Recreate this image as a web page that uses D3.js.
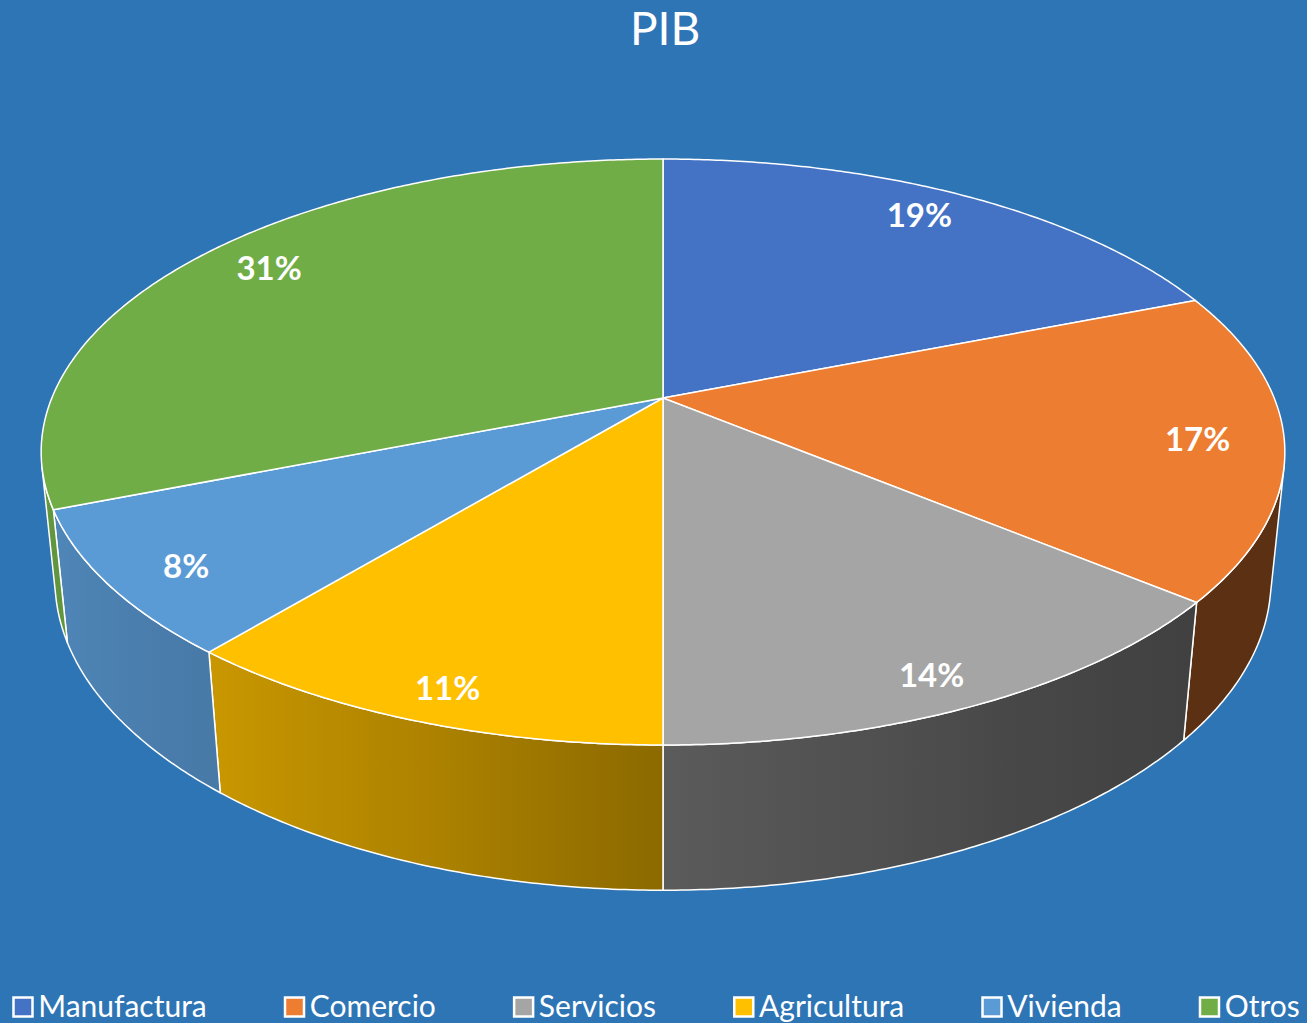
<!DOCTYPE html>
<html>
<head>
<meta charset="utf-8">
<script src="https://cdn.jsdelivr.net/npm/d3@7"></script>
<style>
  body { margin: 0; background: #2E75B6; }
  svg { display: block; }
</style>
</head>
<body>
<div id="chart"></div>
<script>
// data
const categories = ["Manufactura", "Comercio", "Servicios", "Agricultura", "Vivienda", "Otros"];
const values = [19, 17, 14, 11, 8, 31];

const width = 1307;
const height = 1023;

const color = d3.scaleOrdinal()
  .domain(categories)
  .range(["#4472C4", "#ED7D31", "#A5A5A5", "#FFC000", "#5B9BD5", "#70AD47"]);

// perspective camera looking down on a unit disk
const cam = {cx: 663, cy: 398, fx: 2952, fy: 3004, dist: 4.83, tilt: 27.07 * Math.PI / 180};
const thick = 0.2334;

function project(theta, r, y) {
  const X = r * Math.sin(theta), Z = r * Math.cos(theta);
  const c = Math.cos(cam.tilt), s = Math.sin(cam.tilt);
  const yc = y * c + Z * s;
  const d = cam.dist + Z * c - y * s;
  return [cam.cx + cam.fx * X / d, cam.cy - cam.fy * yc / d];
}

function arcPoints(a, b, r, y) {
  const n = Math.max(2, Math.ceil(Math.abs(b - a) / (Math.PI / 360)));
  return d3.range(n + 1).map(i => project(a + (b - a) * i / n, r, y));
}

// wall shading by angle (degrees)
const shade = d3.scaleLinear()
  .domain([100, 130, 150, 180, 200, 220, 245, 260])
  .range([0.39, 0.39, 0.43, 0.55, 0.69, 0.79, 0.86, 0.9])
  .clamp(true);

const svg = d3.select("#chart")
  .append("svg")
  .attr("width", width)
  .attr("height", height);

svg.append("rect")
  .attr("width", width)
  .attr("height", height)
  .attr("fill", "#2E75B6");

const defs = svg.append("defs");
const line = d3.line();

const pie = d3.pie().sort(null).value(d => d);
const arcs = pie(values);
const total = d3.sum(values);

// visible part of the outer wall
const thetaVis = Math.acos(-1 / (cam.dist * Math.cos(cam.tilt)));
const visLo = thetaVis, visHi = 2 * Math.PI - thetaVis;

const walls = svg.append("g");
arcs.forEach((d, i) => {
  const a = Math.max(d.startAngle, visLo);
  const b = Math.min(d.endAngle, visHi);
  if (b <= a) return;
  const base = d3.rgb(color(categories[i]));
  const x1 = project(a, 1, 0)[0], x2 = project(b, 1, 0)[0];
  const grad = defs.append("linearGradient")
    .attr("id", "wall" + i)
    .attr("gradientUnits", "userSpaceOnUse")
    .attr("x1", x1).attr("x2", x2).attr("y1", 0).attr("y2", 0);
  d3.range(13).forEach(k => {
    const t = a + (b - a) * k / 12;
    const f = shade(t * 180 / Math.PI);
    const px = project(t, 1, 0)[0];
    grad.append("stop")
      .attr("offset", Math.abs(x2 - x1) < 1e-6 ? 0 : (px - x1) / (x2 - x1))
      .attr("stop-color", d3.rgb(base.r * f, base.g * f, base.b * f).formatHex());
  });
  const pts = arcPoints(a, b, 1, 0).concat(arcPoints(b, a, 1, -thick));
  walls.append("path")
    .attr("d", line(pts) + "Z")
    .attr("fill", "url(#wall" + i + ")")
    .attr("stroke", "#ffffff")
    .attr("stroke-width", 1.5)
    .attr("stroke-linejoin", "round");
});

// top face
svg.append("g")
  .selectAll("path")
  .data(arcs)
  .enter()
  .append("path")
  .attr("d", d => line([project(0, 0, 0)].concat(arcPoints(d.startAngle, d.endAngle, 1, 0))) + "Z")
  .attr("fill", (d, i) => color(categories[i]))
  .attr("stroke", "#ffffff")
  .attr("stroke-width", 1.5)
  .attr("stroke-linejoin", "round");

// data labels, pulled in from the projected rim midpoint
const pct = d3.format(".0%");
const labelKx = 0.86, labelKy = 0.9;
svg.append("g")
  .selectAll("text")
  .data(arcs)
  .enter()
  .append("text")
  .attr("transform", d => {
    const c = project(0, 0, 0);
    const p = project((d.startAngle + d.endAngle) / 2, 1, 0);
    const x = c[0] + labelKx * (p[0] - c[0]);
    const y = c[1] + labelKy * (p[1] - c[1]);
    return "translate(" + x + "," + y + ")";
  })
  .attr("text-anchor", "middle")
  .attr("dy", "0.36em")
  .attr("fill", "#ffffff")
  .style("font-family", "Lato, 'Open Sans', sans-serif")
  .style("font-weight", "bold")
  .style("font-size", "33px")
  .text(d => pct(d.value / total));

// title
svg.append("text")
  .attr("x", 665)
  .attr("y", 45)
  .attr("text-anchor", "middle")
  .attr("fill", "#ffffff")
  .style("font-family", "Lato, 'Open Sans', sans-serif")
  .style("font-size", "46px")
  .text("PIB");

// legend
const legendBox = 19;
const legendGap = 77;
const legend = svg.append("g").attr("class", "legend");
const items = legend.selectAll(".legend-item")
  .data(categories)
  .enter()
  .append("g")
  .attr("class", "legend-item");

items.append("rect")
  .attr("x", 1.25)
  .attr("y", 997.5)
  .attr("width", legendBox)
  .attr("height", legendBox)
  .attr("fill", d => color(d))
  .attr("stroke", "#ffffff")
  .attr("stroke-width", 2.5);

items.append("text")
  .attr("x", legendBox + 7)
  .attr("y", 1017)
  .attr("fill", "#ffffff")
  .style("font-family", "Lato, 'Open Sans', sans-serif")
  .style("font-size", "30px")
  .text(d => d);

const widths = [];
items.each(function() {
  widths.push(legendBox + 7 + d3.select(this).select("text").node().getComputedTextLength());
});
const legendTotal = d3.sum(widths) + legendGap * (widths.length - 1);
let xpos = 656 - legendTotal / 2;
items.attr("transform", (d, i) => {
  const t = "translate(" + xpos + ",0)";
  xpos += widths[i] + legendGap;
  return t;
});
</script>
</body>
</html>
